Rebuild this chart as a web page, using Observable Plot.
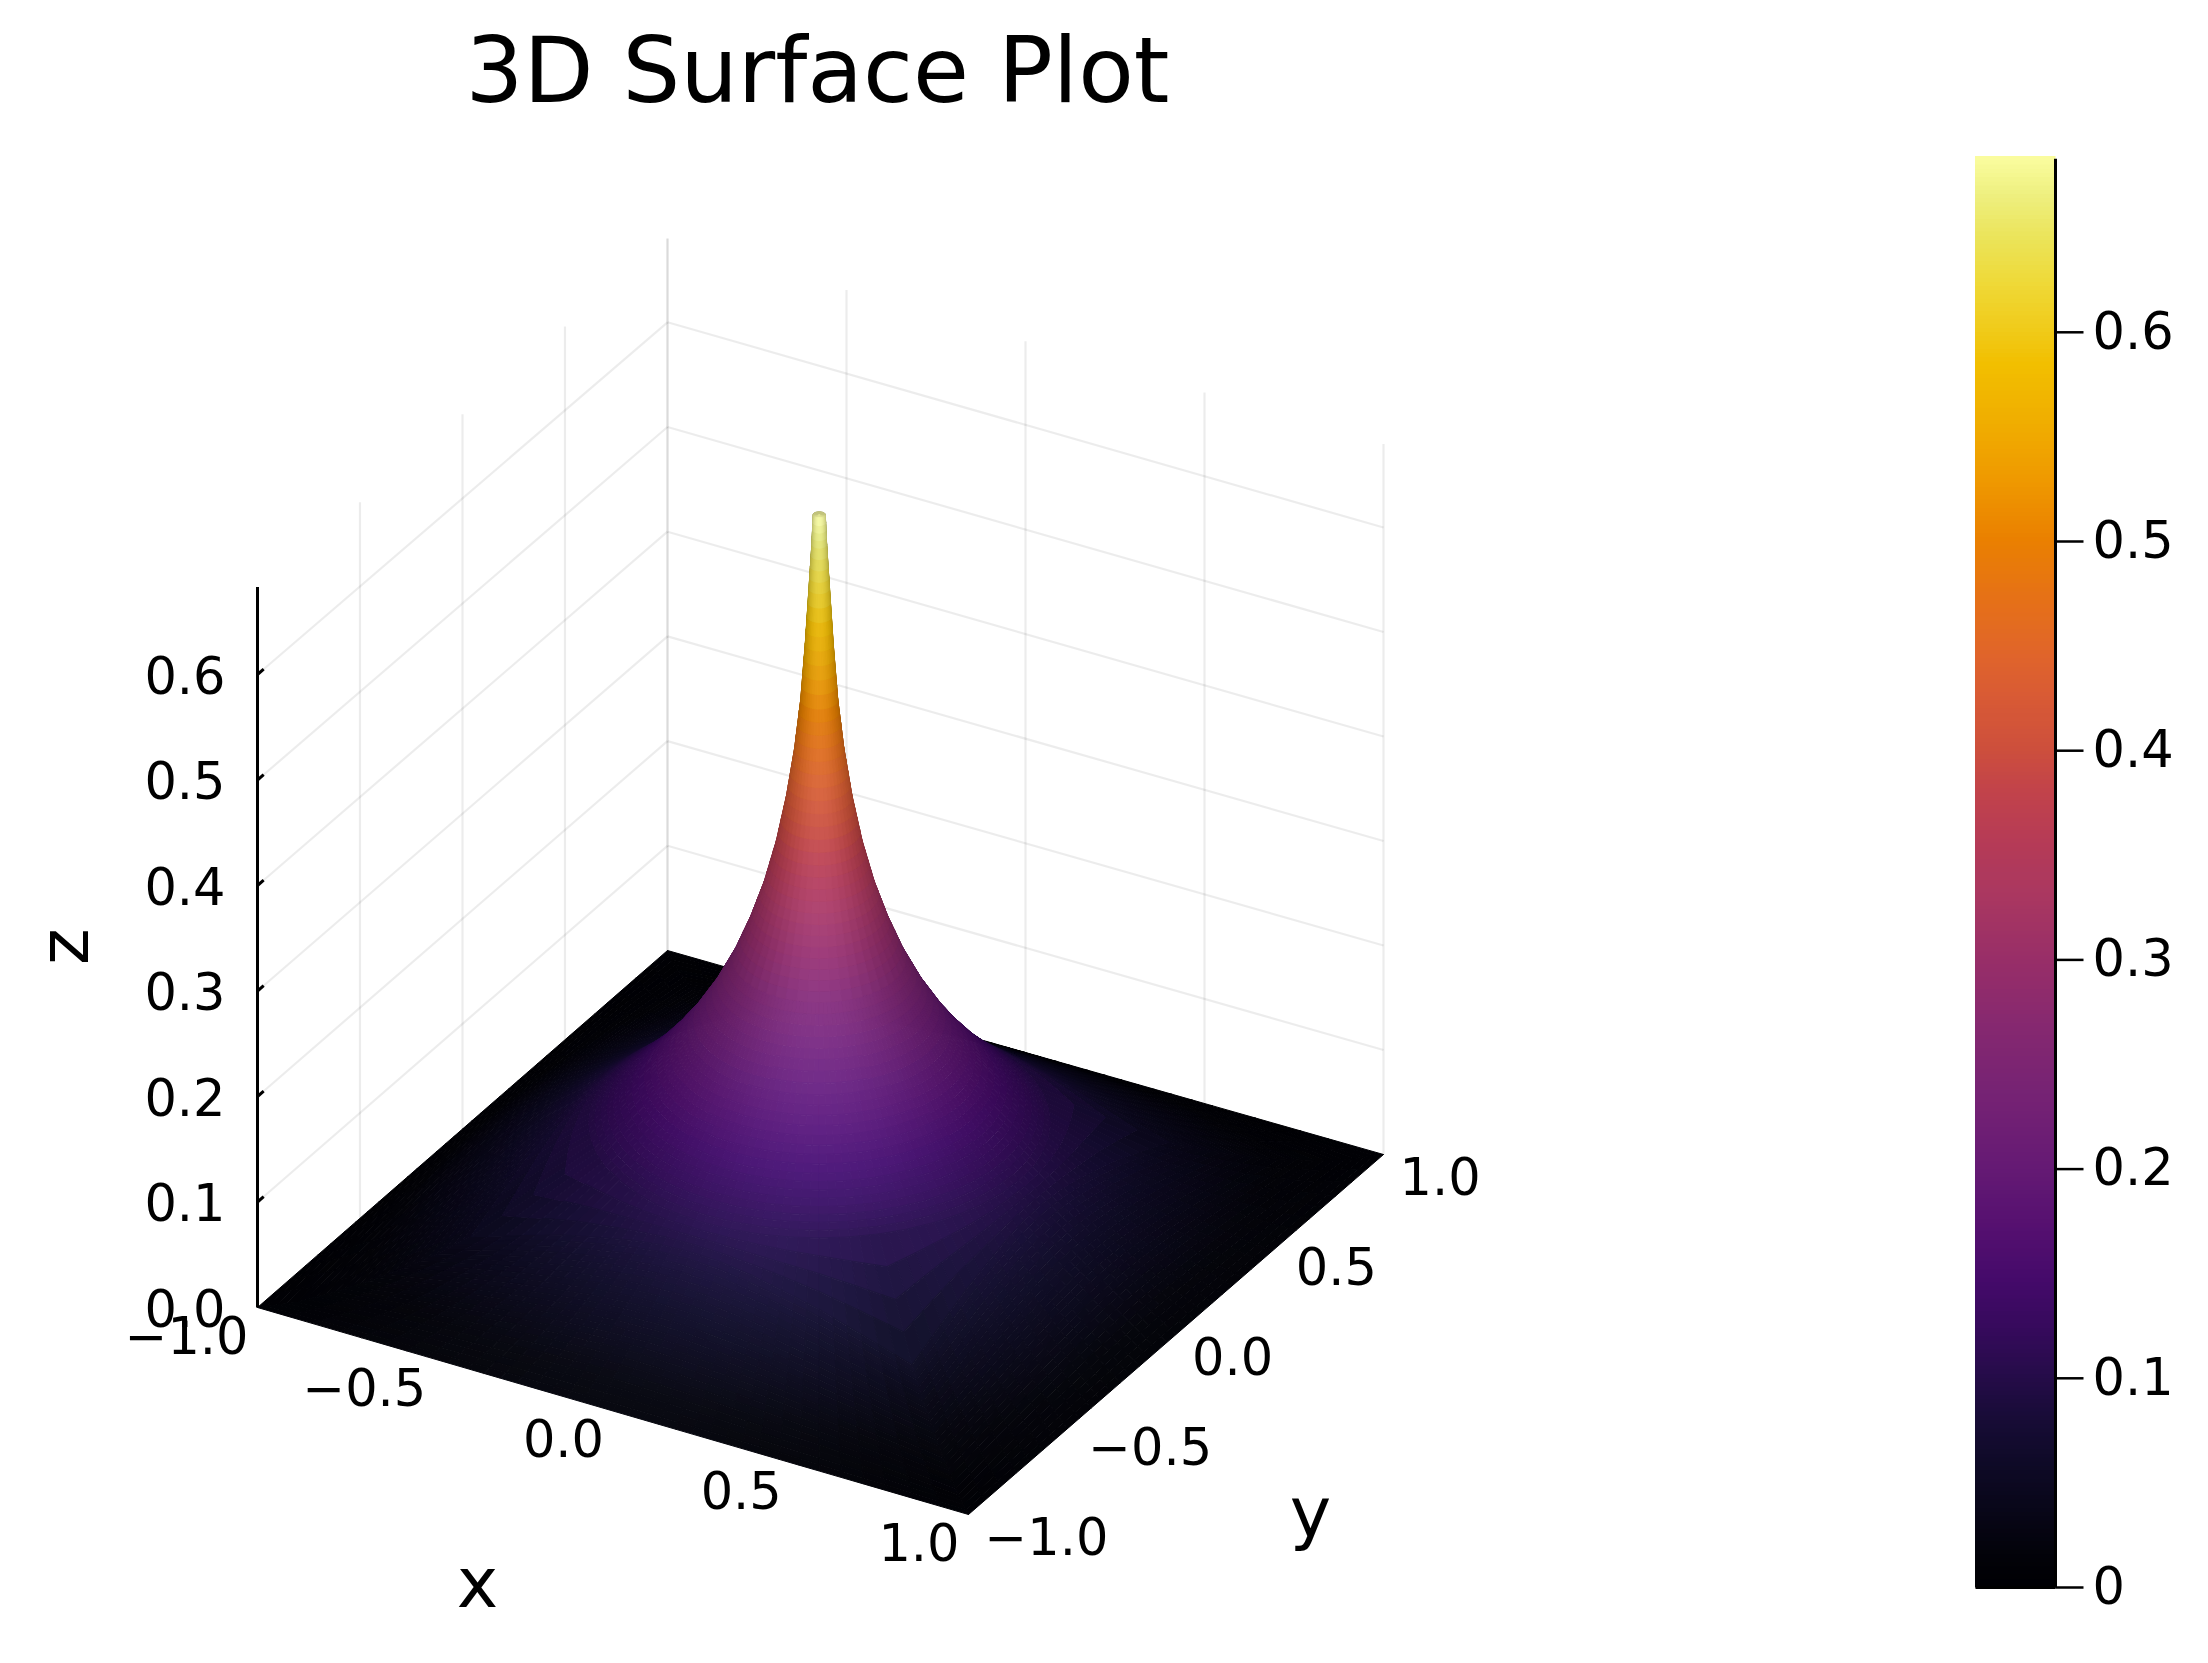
<!DOCTYPE html>
<html>
<head>
<meta charset="utf-8">
<script src="https://cdn.jsdelivr.net/npm/d3@7"></script>
<script src="https://cdn.jsdelivr.net/npm/@observablehq/plot@0.6"></script>
<style>html,body{margin:0;padding:0;background:#fff}svg{display:block}</style>
</head>
<body>
<div id="chart"></div>
<script>
// ---------- values ----------
const chartTitle = "3D Surface Plot";
const xTicks = [-1, -0.5, 0, 0.5, 1];
const yTicks = [-1, -0.5, 0, 0.5, 1];
const zTicks = [0, 0.1, 0.2, 0.3, 0.4, 0.5, 0.6];
const barTicks = [0, 0.1, 0.2, 0.3, 0.4, 0.5, 0.6];
const zPeak = 0.683;
// round part of the spike: radius around the origin and z there
const spikeRadii = [0.0147,0.018,0.025,0.034,0.045,0.06,0.08,0.105,0.135,0.17,0.21,0.26,0.32,0.38,0.44,0.5,0.56];
const spikeZ = [.683,.655,.613,.560,.507,.460,.414,.370,.330,.294,.260,.226,.193,.166,.142,.122,.104];
// outer part, square rings: max(|x|,|y|)
const ringLevels = [0.62,0.68,0.74,0.8,0.86,0.93,1];
// position along a ring side: min(|x|,|y|)/max(|x|,|y|)
const sideFractions = [0,0.13,0.27,0.41,0.58,0.77,1];
// z estimated per ring (row) and side fraction (column); the surface mirrors across x, y and the diagonal
const zByRing = [
[.086,.085,.081,.075,.067,.055,.040],
[.071,.070,.066,.061,.053,.042,.028],
[.056,.055,.052,.047,.040,.031,.019],
[.043,.042,.039,.035,.029,.021,.011],
[.030,.029,.027,.024,.019,.013,.005],
[.015,.014,.013,.011,.009,.006,.000],
[0,0,0,0,0,0,0]
];
// colour bar: value at each colour stop
const rampValues = [0,.013,.035,.057,.079,.101,.123,.145,.171,.2,.233,.266,.299,.332,.353,.38,.4,.4235,.445,.4675,.5,.527,.555,.584,.599,.621,.643,.665,.683];

// ---------- view and style (not data) ----------
const rampColors = ["#000004","#020208","#080618","#0e0a26","#170c36","#260c4a","#360a5c","#440a6a","#551070","#651a74","#752274","#852870","#982e68","#ab3860","#b43a57","#c2434a","#cd4f3c","#d85a35","#e0652a","#e56f1a","#ea8000","#ef9800","#f0ad00","#f2bf00","#f0ca18","#efd835","#ebe358","#eef080","#fbfda0"];
const W = 2208, H = 1663;
const floorA = [257,1307,1055], floorB = [968,1514,1050], floorC = [1383,1154,1045], floorD = [667,950,1047];
function proj(x, y, z = 0) {
  const u = (x + 1) / 2, v = (y + 1) / 2;
  const mix = k => (1-u)*(1-v)*floorA[k] + u*(1-v)*floorB[k] + u*v*floorC[k] + (1-u)*v*floorD[k];
  return [mix(0), mix(1) - z * mix(2)];
}
const FONT = "DejaVu Sans";
const fmt = v => (v < 0 ? "\u2212" : "") + Math.abs(v).toFixed(1);
const bar = {x1: 1975, x2: 2055, y0: 1587, perUnit: 2092};
const barY = z => bar.y0 - z * bar.perUnit;
const colorOptions = {type: "linear", domain: rampValues, range: rampColors, interpolate: "rgb"};

// ---------- surface ----------
const ramp = Plot.scale({color: colorOptions});
const signedT = [...sideFractions.slice(1).reverse().map(t => -t), ...sideFractions.slice(0, -1)];
const sideMaps = [t => [1, t], t => [-t, 1], t => [-1, -t], t => [t, -1]];
const N = sideMaps.length * signedT.length;
const centreRing = d3.range(N).map(() => [0, 0, zPeak]);
const spikeRings = spikeRadii.map((r, i) => sideMaps.flatMap(m => signedT.map(t => {
  const [a, b] = m(t), len = Math.hypot(a, b);
  return [r*a/len, r*b/len, spikeZ[i]];
})));
const squareRings = ringLevels.map((s, i) => sideMaps.flatMap(m => signedT.map(t => {
  const [a, b] = m(t);
  return [s*a, s*b, zByRing[i][sideFractions.indexOf(Math.abs(t))]];
})));
const rings = [centreRing, ...spikeRings, ...squareRings];

const view = [0.433, -0.75, 0.5];          // towards the camera
const zStretch = 2.92;                      // z units relative to x,y on screen
// facing ratio of each table vertex, used to shade the surface the way the reference's lighting does
const facing = rings.map((ring, i) => ring.map((p, j) => {
  const a = rings[Math.min(i + 1, rings.length - 1)][j], b = rings[Math.max(i - 1, 0)][j];
  const c = ring[(j + 1) % N], d = ring[(j + N - 1) % N];
  const t1 = [a[0]-b[0], a[1]-b[1], (a[2]-b[2])*zStretch], t2 = [c[0]-d[0], c[1]-d[1], (c[2]-d[2])*zStretch];
  let n = [t1[1]*t2[2]-t1[2]*t2[1], t1[2]*t2[0]-t1[0]*t2[2], t1[0]*t2[1]-t1[1]*t2[0]];
  const len = Math.hypot(...n);
  if (!len) return 0.5;
  if (n[2] < 0) n = n.map(v => -v);
  return Math.max(0, (n[0]*view[0] + n[1]*view[1] + n[2]*view[2]) / len);
}));
// Each table cell is painted as a small patch of flat pieces so colour blends across it
// (as a surface renderer's vertex shading does); the tables above stay the only source of z.
const cells = [];
const lerp = (a, b, f) => a + (b - a) * f;
for (let i = 0; i + 1 < rings.length; i++) {
  const kf = i === 0 ? 1 : 4, kg = i < spikeRadii.length - 6 ? 1 : 3;
  for (let j = 0; j < N; j++) {
    const j2 = (j + 1) % N;
    const at = (f, g) => {
      const p0 = rings[i][j], p1 = rings[i+1][j], p2 = rings[i+1][j2], p3 = rings[i][j2];
      return [0,1,2].map(m => lerp(lerp(p0[m], p1[m], f), lerp(p3[m], p2[m], f), g));
    };
    for (let a = 0; a < kf; a++) for (let b = 0; b < kg; b++) {
      const f0 = a/kf, f1 = (a+1)/kf, g0 = b/kg, g1 = (b+1)/kg, fm = (f0+f1)/2, gm = (g0+g1)/2;
      const c = at(fm, gm);
      const nv = lerp(lerp(facing[i][j], facing[i+1][j], fm), lerp(facing[i][j2], facing[i+1][j2], fm), gm);
      const rgb = d3.rgb(ramp.apply(c[2]));
      const sh = 0.72 + 0.22 * nv, sp = Math.pow(nv, 4);
      const color = d3.rgb(rgb.r*sh + 18*sp, rgb.g*sh + 20*sp, rgb.b*sh + 28*sp).formatHex();
      const ring = [[f0,g0],[f1,g0],[f1,g1],[f0,g1],[f0,g0]].map(([f, g]) => { const q = at(f, g); return proj(q[0], q[1], q[2]); });
      cells.push({color, depth: c[0]*view[0] + c[1]*view[1] + c[2]*zStretch*view[2],
                  geometry: {type: "Polygon", coordinates: [ring]}});
    }
  }
}
cells.sort((a, b) => a.depth - b.depth);

// ---------- grid ----------
const zTop = 0.68;
const grid = [
  ...zTicks.slice(1).flatMap(z => [[-1,-1,z,-1,1,z],[-1,1,z,1,1,z]]),
  ...yTicks.slice(1).map(y => [-1,y,0,-1,y,zTop]),
  ...xTicks.map(x => [x,1,0,x,1,zTop])
];
const P1 = s => proj(s[0], s[1], s[2]), P2 = s => proj(s[3], s[4], s[5]);
const gridMark = Plot.link(grid, {
  x1: d => P1(d)[0], y1: d => P1(d)[1], x2: d => P2(d)[0], y2: d => P2(d)[1],
  stroke: "#000", strokeOpacity: 0.075, strokeWidth: 2.2
});
const axisZ = Plot.link([[-1,-1,0,-1,-1,zPeak], ...zTicks.slice(1).map(z => [-1,-1,z,-1,-0.97,z])], {
  x1: d => P1(d)[0], y1: d => P1(d)[1], x2: d => P2(d)[0], y2: d => P2(d)[1],
  stroke: "#000", strokeWidth: 3
});

// ---------- colour bar ----------
const barStops = d3.range(0, zPeak, 0.002);
const label = (data, o) => Plot.text(data, {fontFamily: FONT, fontSize: 51, fill: "#000", lineAnchor: "middle", ...o});

const plot = Plot.plot({
  width: W, height: H, margin: 0,
  x: {type: "identity", axis: null},
  y: {type: "identity", axis: null},
  color: colorOptions,
  marks: [
    gridMark,
    axisZ,
    Plot.geo(cells, {geometry: d => d.geometry, fill: d => d.color, stroke: d => d.color, strokeWidth: 1}),
    // z tick labels
    label(zTicks, {x: z => proj(-1,-1,z)[0] - 32, y: z => proj(-1,-1,z)[1] + 3, text: fmt, textAnchor: "end"}),
    // x tick labels
    label(xTicks, {x: v => proj(v,-1)[0] - 9, y: v => proj(v,-1)[1] + 30, text: fmt, textAnchor: "end"}),
    // y tick labels
    label(yTicks, {x: v => proj(1,v)[0] + 16, y: v => proj(1,v)[1] + 24, text: fmt, textAnchor: "start"}),
    // axis guides and title
    Plot.text(["x"], {x: () => 477, y: () => 1584, text: d => d, fontFamily: FONT, fontSize: 70, lineAnchor: "middle"}),
    Plot.text(["y"], {x: () => 1310, y: () => 1514, text: d => d, fontFamily: FONT, fontSize: 70, lineAnchor: "middle"}),
    Plot.text(["z"], {x: () => 65, y: () => 946, text: d => d, rotate: -90, fontFamily: FONT, fontSize: 70, lineAnchor: "middle"}),
    Plot.text([chartTitle], {x: () => 817, y: () => 72, text: d => d, fontFamily: FONT, fontSize: 91, lineAnchor: "middle"}),
    // colour bar
    Plot.rect(barStops, {x1: () => bar.x1, x2: () => bar.x2, y1: z => barY(z), y2: z => barY(z + 0.002), fill: z => z, stroke: z => z, strokeWidth: 0.5, shapeRendering: "crispEdges"}),
    Plot.link([[bar.x2, barY(0), bar.x2, barY(zPeak)], [bar.x1, barY(0), bar.x2, barY(0)]], {x1: d => d[0], y1: d => d[1], x2: d => d[2], y2: d => d[3], stroke: "#000", strokeWidth: 3}),
    Plot.link(barTicks, {x1: () => bar.x2, x2: () => bar.x2 + 28, y1: barY, y2: barY, stroke: "#000", strokeWidth: 2.5}),
    label(barTicks, {x: () => 2092, y: barY, text: v => v === 0 ? "0" : v.toFixed(1), textAnchor: "start"})
  ]
});
document.getElementById("chart").appendChild(plot);
</script>
</body>
</html>
